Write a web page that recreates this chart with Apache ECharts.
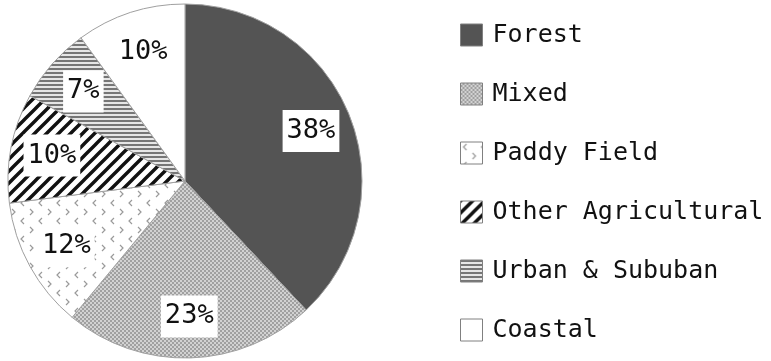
<!DOCTYPE html>
<html>
<head>
<meta charset="utf-8">
<script src="https://cdn.jsdelivr.net/npm/echarts@6/dist/echarts.min.js"></script>
<style>
  html, body { margin: 0; padding: 0; background: #fff; }
  #chart { width: 771px; height: 361px; }
</style>
</head>
<body>
<div id="chart"></div>
<script>
// Land-use shares (%)
const categories = ['Forest', 'Mixed', 'Paddy Field', 'Other Agricultural', 'Urban & Sububan', 'Coastal'];
const shares = [38, 23, 12, 10, 7, 10];

const FONT = '"DejaVu Sans Mono", "Liberation Mono", monospace';

// --- fill textures -------------------------------------------------------
function tile(w, h, draw) {
  const c = document.createElement('canvas');
  c.width = w; c.height = h;
  const ctx = c.getContext('2d');
  draw(ctx, w, h);
  return { image: c, repeat: 'repeat' };
}

// dense light dots on mid grey
const mixedFill = tile(4, 4, (ctx) => {
  ctx.fillStyle = '#a0a0a0'; ctx.fillRect(0, 0, 4, 4);
  ctx.fillStyle = '#d2d2d2';
  ctx.fillRect(0, 0, 2, 2);
  ctx.fillRect(2, 2, 2, 2);
});

// small grey chevrons on white
const paddyFill = tile(18, 18, (ctx) => {
  ctx.fillStyle = '#fff'; ctx.fillRect(0, 0, 18, 18);
  ctx.strokeStyle = '#9a9a9a'; ctx.lineWidth = 1.2;
  ctx.beginPath();
  ctx.moveTo(6, 2); ctx.lineTo(3, 5); ctx.lineTo(6, 8);
  ctx.moveTo(12, 11); ctx.lineTo(15, 14); ctx.lineTo(12, 17);
  ctx.stroke();
});

// thick black diagonal stripes
const otherFill = tile(12, 12, (ctx) => {
  ctx.fillStyle = '#fff'; ctx.fillRect(0, 0, 12, 12);
  ctx.strokeStyle = '#111'; ctx.lineWidth = 3.4;
  ctx.beginPath();
  ctx.moveTo(-2, 14); ctx.lineTo(14, -2);
  ctx.moveTo(-8, 8); ctx.lineTo(8, -8);
  ctx.moveTo(4, 20); ctx.lineTo(20, 4);
  ctx.stroke();
});

// fine horizontal grey lines
const urbanFill = tile(4, 4, (ctx) => {
  ctx.fillStyle = '#e6e6e6'; ctx.fillRect(0, 0, 4, 4);
  ctx.fillStyle = '#767676'; ctx.fillRect(0, 0, 4, 2);
});

const fills = ['#545454', mixedFill, paddyFill, otherFill, urbanFill, '#ffffff'];

const sliceData = categories.map((name, i) => ({
  name: name,
  value: shares[i],
  itemStyle: { color: fills[i] }
}));

const labelData = categories.map((name, i) => ({ name: name, value: shares[i] }));

const chart = echarts.init(document.getElementById('chart'), null, { renderer: 'canvas' });

chart.setOption({
  animation: false,
  backgroundColor: '#ffffff',
  legend: {
    data: categories,
    orient: 'vertical',
    left: 460,
    top: 20,
    padding: 0,
    itemWidth: 22,
    itemHeight: 22,
    itemGap: 29,
    icon: 'rect',
    selectedMode: false,
    itemStyle: { borderColor: '#808080', borderWidth: 1 },
    textStyle: {
      fontFamily: FONT,
      fontSize: 25,
      color: '#111',
      lineHeight: 30,
      padding: [0, 0, 0, 5]
    }
  },
  series: [
    {
      type: 'pie',
      center: [185, 181],
      radius: [0, 177],
      startAngle: 90,
      clockwise: true,
      silent: true,
      label: { show: false },
      labelLine: { show: false },
      itemStyle: { borderColor: '#a0a0a0', borderWidth: 1 },
      data: sliceData
    },
    {
      // transparent ring used only to place the percentage labels
      type: 'pie',
      center: [185, 181],
      radius: [88, 177],
      startAngle: 90,
      clockwise: true,
      silent: true,
      itemStyle: { color: 'rgba(0,0,0,0)' },
      labelLine: { show: false },
      label: {
        show: true,
        position: 'inside',
        rotate: 0,
        formatter: (p) => p.value + '%',
        fontFamily: FONT,
        fontSize: 27,
        color: '#111',
        backgroundColor: '#ffffff',
        padding: [8, 4, 7, 4]
      },
      data: labelData
    }
  ]
});
</script>
</body>
</html>
